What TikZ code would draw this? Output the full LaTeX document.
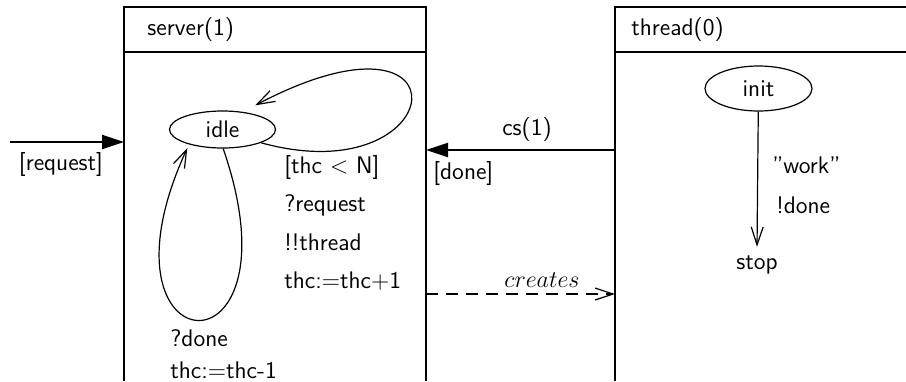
\documentclass[tikz,border=0pt]{standalone}
\usetikzlibrary{arrows.meta}
\usetikzlibrary{shapes.geometric}

\tikzset{
	frame/.style = {draw, line width = .6pt},
	state/.style = {ellipse, draw, line width = .6pt, inner sep = 0pt},
	open/.style = {line width = .6pt, -{Straight Barb[length = 9pt, width = 6pt]}},
	signal/.style = {line width = 1.2pt, -{Triangle[length = 11pt, width = 7pt]}},
	lbl/.style = {anchor = west, inner sep = 0pt}
}

\begin{document}
\begin{tikzpicture}[x = .5pt, y = -.5pt, every node/.style = {font = \fontsize{12}{14}\sffamily}]
		\useasboundingbox (0,0) rectangle (906,381);
		
		% the two boxes
		\draw[frame] (124,381) -- (124,7) -- (426,7) -- (426,381);
		\draw[frame] (124,52) -- (426,52);
		\draw[frame] (615,381) -- (615,7) -- (906,7);
		\draw[frame] (615,52) -- (906,52);
		\node[lbl] (S) at (147,30) {server(1)};
		\node[lbl] (T) at (631,30) {thread(0)};
		
		% states
		\node[state, minimum width = 53pt, minimum height = 18.5pt] (idle) at (222.5,129.5) {idle};
		\node[state, minimum width = 53.5pt, minimum height = 22.5pt] (init) at (758.5,88.5) {init};
		\node (stop) at (757,265) {stop};
		
		% box edges
		\coordinate (reqA) at (10,142);
		\coordinate (reqB) at (124,142);
		\coordinate (csA) at (615,150);
		\coordinate (csB) at (426,150);
		\coordinate (crA) at (426,294);
		\coordinate (crB) at (615,294);
		
		\draw[signal] (reqA) -- (reqB);
		\draw[signal] (csA) -- (csB);
		\draw[open, dashed, dash pattern = on 6pt off 4pt] (crA) -- (crB);
		\draw[open, shorten > = 1pt] (init) -- (stop.north);
		
		\draw[open, shorten > = 7pt] (idle.-19) .. controls (450,195) and (475,-10) .. (idle.41);
		\draw[open, shorten > = 2pt] (idle.-88) .. controls (305,385) and (85,370) .. (idle.-156);
		
		% labels
		\node (R) at (61,164) {[request]};
		\node (C) at (527,130) {cs(1)};
		\node[lbl] (D) at (433,173) {[done]};
		\node (X) at (542,280) {$creates$};
		\node[lbl] (G1) at (284,167) {[thc < N]};
		\node[lbl] (G2) at (284,205) {?request};
		\node[lbl] (G3) at (284,242) {!!thread};
		\node[lbl] (G4) at (284,281) {thc:=thc+1};
		\node[lbl] (H1) at (170,338) {?done};
		\node[lbl] (H2) at (170,370) {thc:=thc-1};
		\node[lbl] (W1) at (772,165) {''work''};
		\node[lbl] (W2) at (776,205) {!done};
	\end{tikzpicture}
\end{document}
